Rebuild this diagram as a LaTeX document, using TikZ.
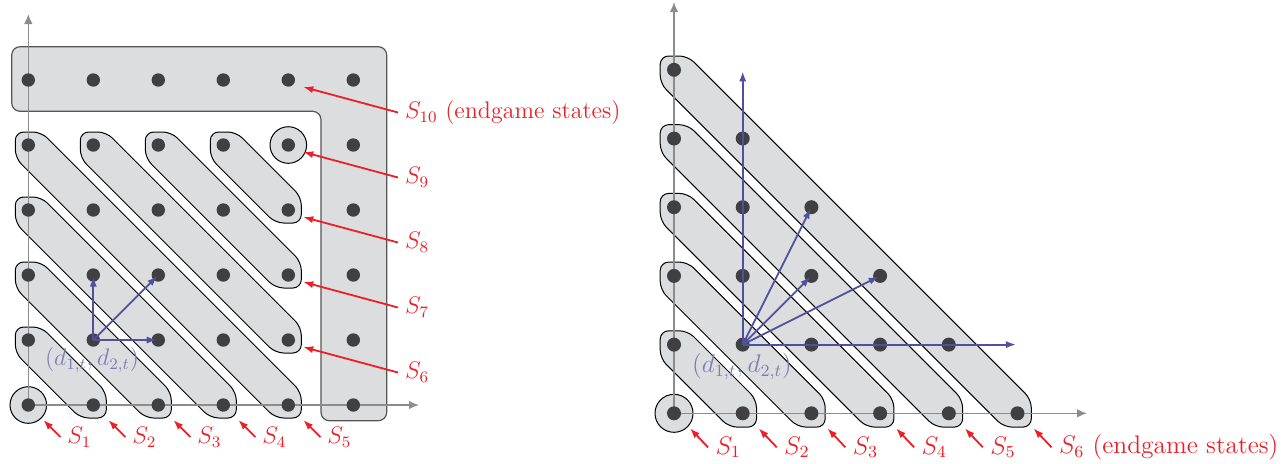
\documentclass[tikz,border=0pt]{standalone}
\usetikzlibrary{calc,arrows.meta}
\definecolor{shapefill}{RGB}{220,221,223}
\definecolor{dotcol}{RGB}{64,64,66}
\definecolor{axiscol}{RGB}{140,140,140}
\definecolor{redcol}{RGB}{237,30,38}
\definecolor{purcol}{RGB}{80,80,158}
\definecolor{labpur}{RGB}{125,125,180}
\definecolor{bigline}{RGB}{85,85,85}
\newcommand\mystad[3]{\draw[shapereg] ($(#1)+(-#3,-#3)$) -- ($(#1)+(#3,-#3)$) -- ($(#2)+(#3,-#3)$) -- ($(#2)+(#3,#3)$) -- ($(#2)+(-#3,#3)$) -- ($(#1)+(-#3,#3)$) -- cycle;}
\begin{document}
\begin{tikzpicture}[x=0.5pt,y=-0.5pt,
 shapereg/.style={draw=black, fill=shapefill, line width=0.5pt, rounded corners=4.2pt},
 bigreg/.style={draw=bigline, fill=shapefill, line width=0.6pt, rounded corners=4.2pt},
 dot/.style={circle, fill=dotcol, inner sep=0pt, minimum size=6.7pt},
 axisline/.style={draw=axiscol, line width=0.8pt, -{Latex[length=5pt,width=4.3pt]}},
 redarrow/.style={draw=redcol, line width=0.9pt, -{Latex[length=5pt,width=3.6pt]}},
 purarrow/.style={draw=purcol, line width=0.9pt, -{Latex[length=5pt,width=3.6pt]}, shorten >=0.8pt},
 redlab/.style={text=redcol, font=\large, anchor=west},
 redlabR/.style={redlab, scale=1.06},
 pairlab/.style={text=labpur, font=\large},
]
\useasboundingbox (0,0) rectangle (1288,463);
% grid coordinates
\foreach \i in {0,...,5}{\foreach \j in {0,...,5}{
  \coordinate (L-\i-\j) at ({28.3+65*\i},{405-65*\j});
  \coordinate (R-\i-\j) at ({674+68.7*\i},{413.3-68.7*\j});
}}
% ---------- left panel regions ----------
\draw[bigreg] (11.7,46.7) -- (386.7,46.7) -- (386.7,420.7) -- (321,420.7) -- (321,111.3) -- (11.7,111.3) -- cycle;
\draw[shapereg] (L-0-0) circle[radius=18.3];
\draw[shapereg] (L-4-4) circle[radius=18.3];
\mystad{L-0-1}{L-1-0}{13}
\mystad{L-0-2}{L-2-0}{13}
\mystad{L-0-3}{L-3-0}{13}
\mystad{L-0-4}{L-4-0}{13}
\mystad{L-1-4}{L-4-1}{13}
\mystad{L-2-4}{L-4-2}{13}
\mystad{L-3-4}{L-4-3}{13}
% ---------- right panel regions ----------
\draw[shapereg] (R-0-0) circle[radius=19];
\foreach \k in {1,...,5}{\mystad{R-0-\k}{R-\k-0}{13.8}}
% axes
\coordinate (LyTop) at (28.3,14);
\coordinate (LxEnd) at (419,405);
\coordinate (RyTop) at (674,2);
\coordinate (RxEnd) at (1087,413.3);
\draw[axisline] (L-0-0) -- (LyTop);
\draw[axisline] (L-0-0) -- (LxEnd);
\draw[axisline] (R-0-0) -- (RyTop);
\draw[axisline] (R-0-0) -- (RxEnd);
% dots
\foreach \i in {0,...,5}{\foreach \j in {0,...,5}{\node[dot] (LD-\i-\j) at (L-\i-\j) {};}}
\foreach \i in {0,...,5}{\pgfmathtruncatemacro\jm{5-\i}
  \foreach \j in {0,...,\jm}{\node[dot, minimum size=7pt] (RD-\i-\j) at (R-\i-\j) {};}}
% purple arrows
\draw[purarrow] (LD-1-1.center) -- (LD-1-2.center);
\draw[purarrow] (LD-1-1.center) -- (LD-2-2.center);
\draw[purarrow] (LD-1-1.center) -- (LD-2-1.center);
\draw[purarrow] (RD-1-1.center) -- (R-1-5);
\draw[purarrow] (RD-1-1.center) -- (RD-2-3.center);
\draw[purarrow] (RD-1-1.center) -- (RD-2-2.center);
\draw[purarrow] (RD-1-1.center) -- (RD-3-2.center);
\draw[purarrow] (RD-1-1.center) -- (R-5-1);
\node[pairlab] (Lpair) at (92,360) {$(d_{1,t},d_{2,t})$};
\node[pairlab, scale=1.06] (Rpair) at (742,367) {$(d_{1,t},d_{2,t})$};
% red labels, left panel right side
\node[redlab] (LS10) at ($(L-5-5)+(44.7,32.5)$) {$S_{10}$ (endgame states)};
\coordinate (LT10) at ($(L-4-5)+(15,7)$);
\draw[redarrow] (LS10.west) -- (LT10);
\foreach \k/\j in {9/4,8/3,7/2,6/1}{
  \node[redlab] (LS\k) at ($(L-5-\j)+(44.7,32.5)$) {$S_{\k}$};
  \coordinate (LT\k) at ($(L-4-\j)+(15,7)$);
  \draw[redarrow] (LS\k.west) -- (LT\k);
}
% red labels, left panel bottom
\foreach \k in {1,...,5}{\pgfmathtruncatemacro\m{\k-1}
  \node[redlab] (LB\k) at ($(L-\m-0)+(32,32)$) {$S_{\k}$};
  \coordinate (LBT\k) at ($(L-\m-0)+(15,15)$);
  \draw[redarrow] (LB\k.west) -- (LBT\k);
}
% red labels, right panel bottom
\foreach \k in {1,...,5}{\pgfmathtruncatemacro\m{\k-1}
  \node[redlabR] (RB\k) at ($(R-\m-0)+(34,34)$) {$S_{\k}$};
  \coordinate (RBT\k) at ($(R-\m-0)+(16,15)$);
  \draw[redarrow] (RB\k.west) -- (RBT\k);
}
\node[redlabR] (RB6) at ($(R-5-0)+(34,34)$) {$S_{6}$ (endgame states)};
\coordinate (RBT6) at ($(R-5-0)+(16,15)$);
\draw[redarrow] (RB6.west) -- (RBT6);
\end{tikzpicture}
\end{document}
